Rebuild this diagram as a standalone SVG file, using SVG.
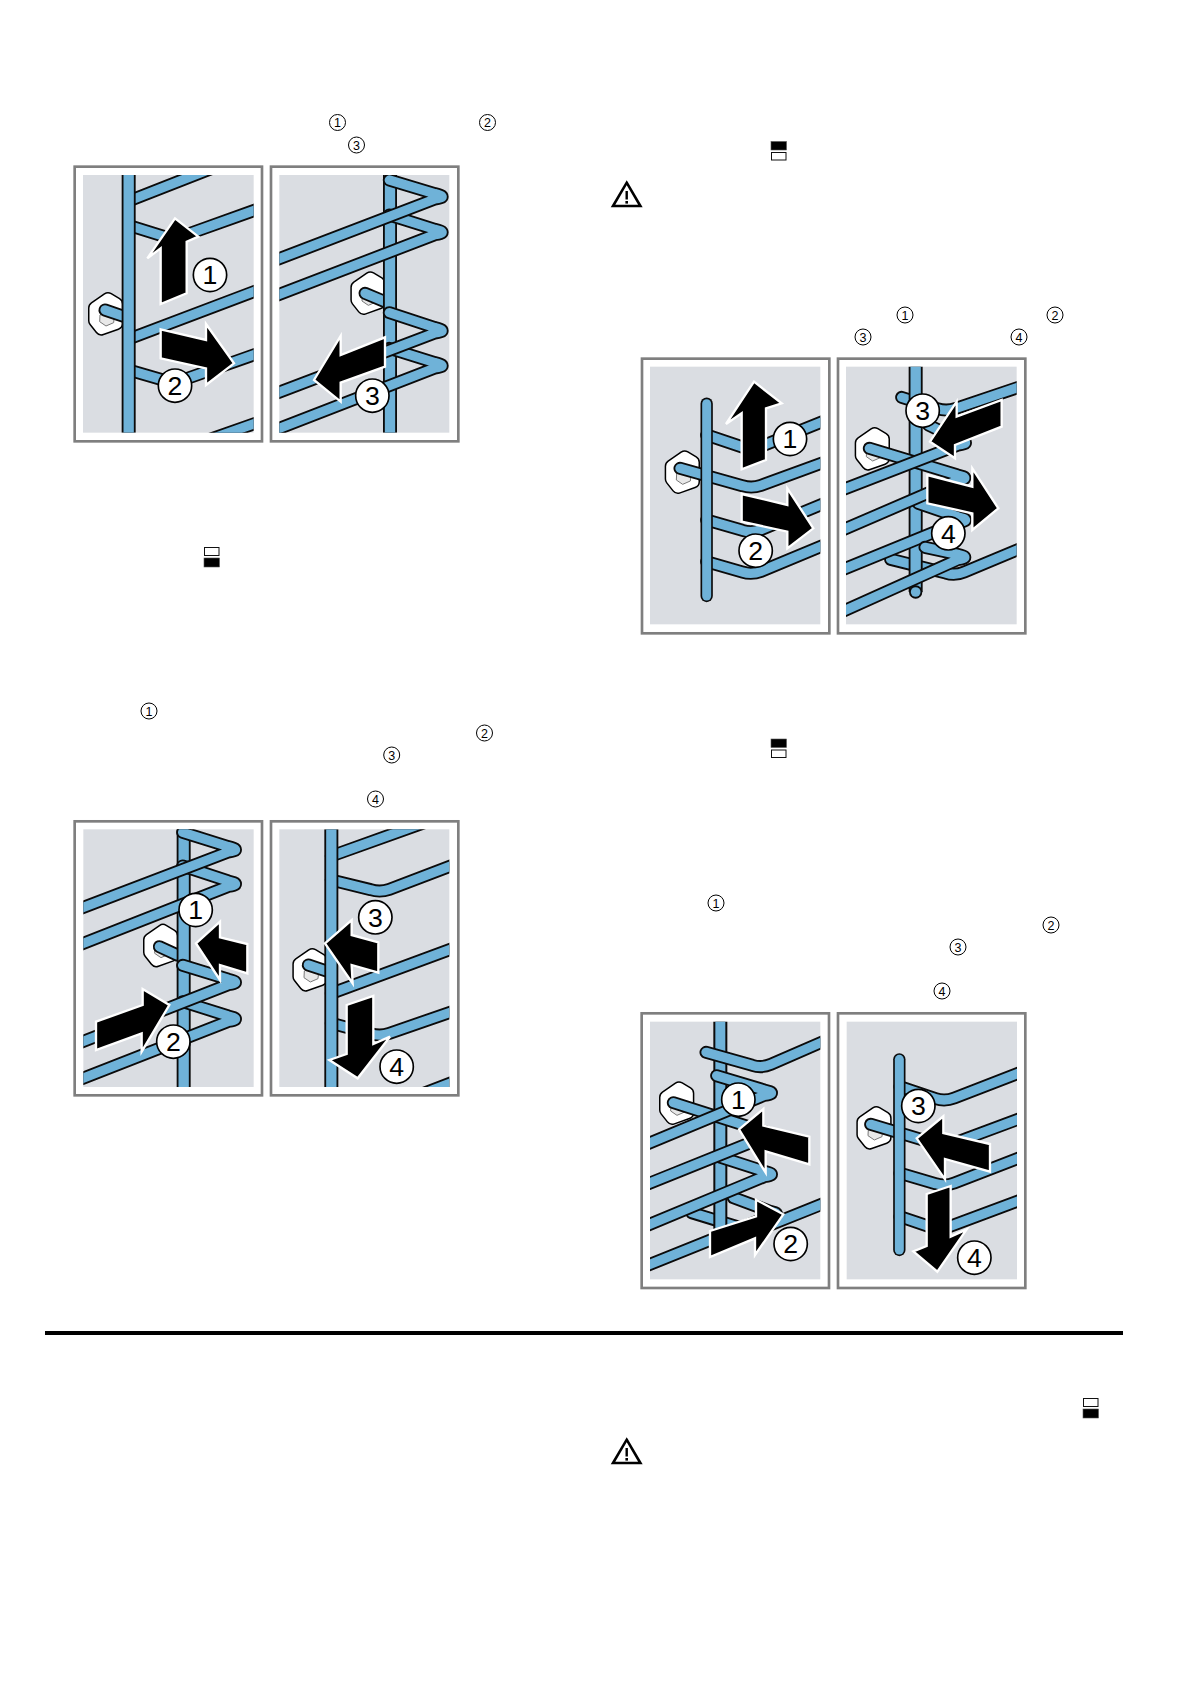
<svg xmlns="http://www.w3.org/2000/svg" width="1191" height="1684" viewBox="0 0 1191 1684">
<style>
.bg{fill:#fff}
.frame{fill:#fff;stroke:#7f7f7f;stroke-width:8}
.gray{fill:#dadde2}
.o{fill:none;stroke:#0b0b0b;stroke-width:39;stroke-linecap:round;stroke-linejoin:round}
.i{fill:none;stroke:#6fb2d8;stroke-width:28;stroke-linecap:round;stroke-linejoin:round}
.vo{fill:none;stroke:#0b0b0b;stroke-width:42}
.vi{fill:none;stroke:#6fb2d8;stroke-width:31}
.ro{fill:none;stroke:#0b0b0b;stroke-width:37;stroke-linecap:round}
.ri{fill:none;stroke:#6fb2d8;stroke-width:27;stroke-linecap:round}
.arr{fill:#000;stroke:#fff;stroke-width:7;stroke-linejoin:miter}
.lc{fill:#fff;stroke:#000;stroke-width:5}
.lt{font-family:"Liberation Sans",Arial,sans-serif;font-size:80px;text-anchor:middle;fill:#000}
.sc{fill:#fff;stroke:#000;stroke-width:1}
.st{font-family:"Liberation Sans",Arial,sans-serif;font-size:12.5px;text-anchor:middle;fill:#000}
.ib{fill:#000;stroke:#555;stroke-width:.6}
.iw{fill:#fff;stroke:#111;stroke-width:1}
</style>
<defs>
<g id="nut">
<path d="M9 -43 L34 -28 L34 30 L-11 46 L-30 22 L-30 -16 Z" fill="#fff" stroke="#000" stroke-width="42" stroke-linejoin="round"/>
<path d="M9 -43 L34 -28 L34 30 L-11 46 L-30 22 L-30 -16 Z" fill="#fff" stroke="#fff" stroke-width="33" stroke-linejoin="round"/>
<path d="M-15 5 L8 -5 L28 8 L26 28 L3 38 L-16 25 Z" fill="#e8e8e8" stroke="#777" stroke-width="3"/>
</g>
<g id="warn">
<path d="M0 -23.3 L13.7 0 L-13.7 0 Z" fill="#fff" stroke="#000" stroke-width="2.6" stroke-linejoin="miter"/>
<rect x="-1.2" y="-15" width="2.4" height="8.5" fill="#000"/>
<rect x="-1.3" y="-5" width="2.6" height="2.6" fill="#000"/>
</g>
<g id="iconTop"><rect x="0" y="0" width="15.5" height="8.5" class="ib"/><rect x=".5" y="11" width="14.5" height="7.5" class="iw"/></g>
<g id="iconBot"><rect x=".5" y="0" width="14.5" height="8" class="iw"/><rect x="0" y="10.5" width="15.5" height="9" class="ib"/></g>
<clipPath id="c1a"><rect x="69" y="225" width="512" height="773"/></clipPath>
<clipPath id="c1b"><rect x="658" y="225" width="510" height="773"/></clipPath>
<clipPath id="c2a"><rect x="70" y="418" width="511" height="773"/></clipPath>
<clipPath id="c2b"><rect x="658" y="418" width="510" height="773"/></clipPath>
<clipPath id="c3a"><rect x="150" y="740" width="511" height="773"/></clipPath>
<clipPath id="c3b"><rect x="738" y="740" width="512" height="773"/></clipPath>
<clipPath id="c4a"><rect x="90" y="905" width="511" height="773"/></clipPath>
<clipPath id="c4b"><rect x="680" y="905" width="511" height="773"/></clipPath>
</defs>
<rect class="bg" x="0" y="0" width="1191" height="1684"/>

<g id="panel-1a" transform="translate(60,100) scale(.33333)">
<rect class="frame" x="44" y="200" width="562" height="824"/><rect class="gray" x="69" y="225" width="512" height="773"/>
<g clip-path="url(#c1a)">
<path class="o" d="M206 303 L520 180"/><path class="i" d="M206 303 L520 180"/>
<path class="o" d="M206 376 L312 409 Q340 418 368 408 L600 325"/><path class="i" d="M206 376 L312 409 Q340 418 368 408 L600 325"/>
<path class="o" d="M206 717 L600 568"/><path class="i" d="M206 717 L600 568"/>
<path class="o" d="M206 810 L312 841 Q340 850 368 840 L600 758"/><path class="i" d="M206 810 L312 841 Q340 850 368 840 L600 758"/>
<path class="o" d="M430 1025 L600 965"/><path class="i" d="M430 1025 L600 965"/>
<use href="#nut" x="135" y="640"/>
<path class="o" d="M135 630 L200 652"/><path class="i" d="M135 630 L200 652"/>
<path class="vo" d="M206 225 V998"/><path class="vi" d="M206 225 V998"/>
</g>
<polygon class="arr" points="345,355 415,410 380,425 380,580 302,612 302,445 262,475"/>
<polygon class="arr" points="302,688 438,720 438,672 522,790 438,855 438,805 302,775"/>
<circle class="lc" cx="450" cy="525" r="50"/><text class="lt" x="450" y="553">1</text>
<circle class="lc" cx="345" cy="857" r="50"/><text class="lt" x="345" y="885">2</text>
</g>

<g id="panel-1b" transform="translate(60,100) scale(.33333)">
<rect class="frame" x="633" y="200" width="562" height="824"/><rect class="gray" x="658" y="225" width="510" height="773"/>
<g clip-path="url(#c1b)">
<use href="#nut" x="922" y="578"/>
<path class="o" d="M915 580 L975 605"/><path class="i" d="M915 580 L975 605"/>
<path class="vo" d="M990 225 V998"/><path class="vi" d="M990 225 V998"/>
<path class="o" d="M988 745 L1125 788 Q1168 798 1125 804 L640 992"/><path class="i" d="M988 745 L1125 788 Q1168 798 1125 804 L640 992"/>
<path class="o" d="M988 638 L1125 683 Q1168 693 1125 699 L640 883"/><path class="i" d="M988 638 L1125 683 Q1168 693 1125 699 L640 883"/>
<path class="o" d="M988 345 L1125 388 Q1168 398 1125 404 L640 590"/><path class="i" d="M988 345 L1125 388 Q1168 398 1125 404 L640 590"/>
<path class="o" d="M988 240 L1125 281 Q1168 291 1125 297 L640 483"/><path class="i" d="M988 240 L1125 281 Q1168 291 1125 297 L640 483"/>
</g>
<polygon class="arr" points="762,840 842,708 842,765 975,712 975,800 842,848 842,905"/>
<circle class="lc" cx="937" cy="887" r="50"/><text class="lt" x="937" y="915">3</text>
</g>

<g id="panel-2a" transform="translate(60,690) scale(.33333)">
<rect class="frame" x="44" y="394" width="562" height="822"/><rect class="gray" x="70" y="418" width="511" height="773"/>
<g clip-path="url(#c2a)">
<use href="#nut" x="300" y="765"/>
<path class="o" d="M298 770 L352 795"/><path class="i" d="M298 770 L352 795"/>
<path class="vo" d="M371 418 V1191"/><path class="vi" d="M371 418 V1191"/>
<path class="o" d="M368 935 L505 978 Q548 988 505 994 L50 1172"/><path class="i" d="M368 935 L505 978 Q548 988 505 994 L50 1172"/>
<path class="o" d="M368 826 L505 868 Q548 878 505 884 L50 1062"/><path class="i" d="M368 826 L505 868 Q548 878 505 884 L50 1062"/>
<path class="o" d="M368 528 L505 573 Q548 583 505 589 L50 768"/><path class="i" d="M368 528 L505 573 Q548 583 505 589 L50 768"/>
<path class="o" d="M368 427 L505 470 Q548 480 505 486 L50 660"/><path class="i" d="M368 427 L505 470 Q548 480 505 486 L50 660"/>
</g>
<polygon class="arr" points="408,760 480,695 480,742 562,762 562,850 480,825 480,870"/>
<polygon class="arr" points="108,995 248,945 248,897 328,945 245,1085 245,1030 108,1080"/>
<circle class="lc" cx="407" cy="660" r="50"/><text class="lt" x="407" y="688">1</text>
<circle class="lc" cx="340" cy="1055" r="50"/><text class="lt" x="340" y="1083">2</text>
</g>

<g id="panel-2b" transform="translate(60,690) scale(.33333)">
<rect class="frame" x="633" y="394" width="562" height="822"/><rect class="gray" x="658" y="418" width="510" height="773"/>
<g clip-path="url(#c2b)">
<path class="o" d="M814 498 L1110 392"/><path class="i" d="M814 498 L1110 392"/>
<path class="o" d="M814 570 L932 599 Q960 608 988 598 L1185 523"/><path class="i" d="M814 570 L932 599 Q960 608 988 598 L1185 523"/>
<path class="o" d="M814 910 L1185 773"/><path class="i" d="M814 910 L1185 773"/>
<path class="o" d="M814 1000 L932 1031 Q960 1040 988 1030 L1185 962"/><path class="i" d="M814 1000 L932 1031 Q960 1040 988 1030 L1185 962"/>
<path class="o" d="M1060 1222 L1190 1172"/><path class="i" d="M1060 1222 L1190 1172"/>
<use href="#nut" x="748" y="838"/>
<path class="o" d="M745 825 L805 845"/><path class="i" d="M745 825 L805 845"/>
<path class="vo" d="M814 418 V1191"/><path class="vi" d="M814 418 V1191"/>
</g>
<polygon class="arr" points="795,760 875,690 875,735 955,757 955,848 875,825 878,880"/>
<polygon class="arr" points="860,945 940,918 940,1062 990,1040 893,1165 808,1110 860,1092"/>
<circle class="lc" cx="946" cy="682" r="50"/><text class="lt" x="946" y="710">3</text>
<circle class="lc" cx="1010" cy="1130" r="50"/><text class="lt" x="1010" y="1158">4</text>
</g>

<g id="panel-3a" transform="translate(600,120) scale(.33333)">
<rect class="frame" x="126" y="716" width="562" height="824"/><rect class="gray" x="150" y="740" width="511" height="773"/>
<g clip-path="url(#c3a)">
<path class="o" d="M320 945 L427 981 Q455 990 483 979 L680 900"/><path class="i" d="M320 945 L427 981 Q455 990 483 979 L680 900"/>
<use href="#nut" x="245" y="1055"/>
<path class="o" d="M240 1045 L427 1097 Q455 1106 483 1096 L680 1024"/><path class="i" d="M240 1045 L427 1097 Q455 1106 483 1096 L680 1024"/>
<path class="o" d="M320 1200 L427 1231 Q455 1240 483 1229 L680 1147"/><path class="i" d="M320 1200 L427 1231 Q455 1240 483 1229 L680 1147"/>
<path class="o" d="M320 1325 L427 1356 Q455 1365 483 1354 L680 1272"/><path class="i" d="M320 1325 L427 1356 Q455 1365 483 1354 L680 1272"/>
<path class="ro" d="M320 851 V1428"/><path class="ri" d="M320 851 V1428"/>
</g>
<polygon class="arr" points="462,785 545,850 498,865 498,1020 425,1048 425,880 378,912"/>
<polygon class="arr" points="425,1122 562,1155 562,1105 640,1225 562,1285 562,1235 425,1205"/>
<circle class="lc" cx="570" cy="957" r="50"/><text class="lt" x="570" y="985">1</text>
<circle class="lc" cx="467" cy="1292" r="50"/><text class="lt" x="467" y="1320">2</text>
</g>

<g id="panel-3b" transform="translate(600,120) scale(.33333)">
<rect class="frame" x="714" y="716" width="562" height="824"/><rect class="gray" x="738" y="740" width="512" height="773"/>
<g clip-path="url(#c3b)">
<path class="o" d="M905 832 L1012 866 Q1040 875 1068 865 L1270 797"/><path class="i" d="M905 832 L1012 866 Q1040 875 1068 865 L1270 797"/>
<path class="o" d="M872 1318 L1037 1359 Q1065 1368 1093 1356 L1270 1282"/><path class="i" d="M872 1318 L1037 1359 Q1065 1368 1093 1356 L1270 1282"/>
<use href="#nut" x="815" y="985"/>
<path class="vo" d="M947 730 V1416"/><path class="vi" d="M947 730 V1416"/>
<path class="ro" d="M947 1416 V1416" style="stroke-width:40"/><path class="ri" d="M947 1416 V1416" style="stroke-width:29"/>
<path class="o" d="M955 1150 L1075 1191 Q1118 1201 1075 1207 L720 1352"/><path class="i" d="M955 1150 L1075 1191 Q1118 1201 1075 1207 L720 1352"/>
<path class="o" d="M808 985 L1073 1065 Q1116 1075 1073 1081 L720 1233"/><path class="i" d="M808 985 L1073 1065 Q1116 1075 1073 1081 L720 1233"/>
<path class="o" d="M985 915 L1075 959 Q1118 969 1075 975 L720 1112"/><path class="i" d="M985 915 L1075 959 Q1118 969 1075 975 L720 1112"/>
<path class="o" d="M975 1282 L1073 1303 Q1116 1313 1073 1319 L720 1478"/><path class="i" d="M975 1282 L1073 1303 Q1116 1313 1073 1319 L720 1478"/>
</g>
<polygon class="arr" points="990,965 1070,845 1070,890 1205,840 1205,920 1065,975 1065,1015"/>
<polygon class="arr" points="982,1065 1117,1100 1117,1045 1195,1165 1117,1230 1117,1180 982,1150"/>
<circle class="lc" cx="968" cy="872" r="50"/><text class="lt" x="968" y="900">3</text>
<circle class="lc" cx="1045" cy="1240" r="50"/><text class="lt" x="1045" y="1268">4</text>
</g>

<g id="panel-4a" transform="translate(620,720) scale(.33333)">
<rect class="frame" x="65" y="880" width="562" height="824"/><rect class="gray" x="90" y="905" width="511" height="773"/>
<g clip-path="url(#c4a)">
<use href="#nut" x="168" y="1148"/>
<path class="o" d="M215 1478 L372 1526 Q400 1535 428 1524 L620 1447"/><path class="i" d="M215 1478 L372 1526 Q400 1535 428 1524 L620 1447"/>
<path class="ro" d="M301 895 V1555" style="stroke-width:42;stroke-linecap:butt"/><path class="ri" d="M301 895 V1555" style="stroke-width:30;stroke-linecap:butt"/>
<path class="o" d="M258 997 L397 1036 Q425 1045 453 1033 L620 960"/><path class="i" d="M258 997 L397 1036 Q425 1045 453 1033 L620 960"/>
<path class="o" d="M340 1433 L448 1473 Q491 1483 448 1489 L70 1641"/><path class="i" d="M340 1433 L448 1473 Q491 1483 448 1489 L70 1641"/>
<path class="o" d="M300 1311 L433 1354 Q476 1364 433 1370 L70 1521"/><path class="i" d="M300 1311 L433 1354 Q476 1364 433 1370 L70 1521"/>
<path class="o" d="M160 1148 L433 1235 Q476 1245 433 1251 L70 1397"/><path class="i" d="M160 1148 L433 1235 Q476 1245 433 1251 L70 1397"/>
<path class="o" d="M290 1067 L433 1110 Q476 1120 433 1126 L70 1277"/><path class="i" d="M290 1067 L433 1110 Q476 1120 433 1126 L70 1277"/>
</g>
<polygon class="arr" points="357,1228 430,1167 430,1217 568,1250 568,1333 437,1294 437,1358"/>
<polygon class="arr" points="270,1533 408,1489 408,1439 490,1483 405,1605 405,1555 270,1611"/>
<circle class="lc" cx="355" cy="1139" r="50"/><text class="lt" x="355" y="1167">1</text>
<circle class="lc" cx="512" cy="1572" r="50"/><text class="lt" x="512" y="1600">2</text>
</g>

<g id="panel-4b" transform="translate(620,720) scale(.33333)">
<rect class="frame" x="654" y="880" width="562" height="824"/><rect class="gray" x="680" y="905" width="511" height="773"/>
<g clip-path="url(#c4b)">
<path class="o" d="M840 1100 L947 1136 Q975 1145 1003 1134 L1210 1054"/><path class="i" d="M840 1100 L947 1136 Q975 1145 1003 1134 L1210 1054"/>
<use href="#nut" x="760" y="1222"/>
<path class="o" d="M752 1213 L947 1271 Q975 1280 1003 1269 L1210 1192"/><path class="i" d="M752 1213 L947 1271 Q975 1280 1003 1269 L1210 1192"/>
<path class="o" d="M840 1360 L947 1391 Q975 1400 1003 1389 L1210 1309"/><path class="i" d="M840 1360 L947 1391 Q975 1400 1003 1389 L1210 1309"/>
<path class="o" d="M840 1490 L932 1521 Q960 1530 988 1520 L1210 1437"/><path class="i" d="M840 1490 L932 1521 Q960 1530 988 1520 L1210 1437"/>
<path class="ro" d="M838 1018 V1590"/><path class="ri" d="M838 1018 V1590"/>
</g>
<polygon class="arr" points="890,1255 970,1189 970,1239 1110,1272 1110,1355 975,1317 975,1378"/>
<polygon class="arr" points="920,1422 992,1398 992,1550 1040,1528 952,1655 880,1594 920,1578"/>
<circle class="lc" cx="895" cy="1158" r="50"/><text class="lt" x="895" y="1186">3</text>
<circle class="lc" cx="1063" cy="1613" r="50"/><text class="lt" x="1063" y="1641">4</text>
</g>

<g id="small-labels">
<circle class="sc" cx="337.5" cy="122.5" r="8"/><text class="st" x="337.5" y="127">1</text>
<circle class="sc" cx="487.5" cy="122.5" r="8"/><text class="st" x="487.5" y="127">2</text>
<circle class="sc" cx="356.5" cy="145" r="8"/><text class="st" x="356.5" y="149.5">3</text>
<circle class="sc" cx="149" cy="711" r="8"/><text class="st" x="149" y="715.5">1</text>
<circle class="sc" cx="484.5" cy="733" r="8"/><text class="st" x="484.5" y="737.5">2</text>
<circle class="sc" cx="391.7" cy="755" r="8"/><text class="st" x="391.7" y="759.5">3</text>
<circle class="sc" cx="375.5" cy="799" r="8"/><text class="st" x="375.5" y="803.5">4</text>
<circle class="sc" cx="905" cy="315" r="8"/><text class="st" x="905" y="319.5">1</text>
<circle class="sc" cx="1055" cy="315" r="8"/><text class="st" x="1055" y="319.5">2</text>
<circle class="sc" cx="863" cy="337" r="8"/><text class="st" x="863" y="341.5">3</text>
<circle class="sc" cx="1019" cy="337" r="8"/><text class="st" x="1019" y="341.5">4</text>
<circle class="sc" cx="716" cy="903" r="8"/><text class="st" x="716" y="907.5">1</text>
<circle class="sc" cx="1051" cy="925" r="8"/><text class="st" x="1051" y="929.5">2</text>
<circle class="sc" cx="958" cy="947" r="8"/><text class="st" x="958" y="951.5">3</text>
<circle class="sc" cx="942" cy="991" r="8"/><text class="st" x="942" y="995.5">4</text>
</g>

<g id="icons">
<use href="#iconTop" x="771" y="141.5"/>
<use href="#iconTop" x="771" y="739"/>
<use href="#iconBot" x="204" y="547.5"/>
<use href="#iconBot" x="1083" y="1398.5"/>
<use href="#warn" x="626.7" y="206"/>
<use href="#warn" x="626.7" y="1463"/>
</g>
<rect id="rule" x="45" y="1331" width="1078" height="4" fill="#000"/>
</svg>
